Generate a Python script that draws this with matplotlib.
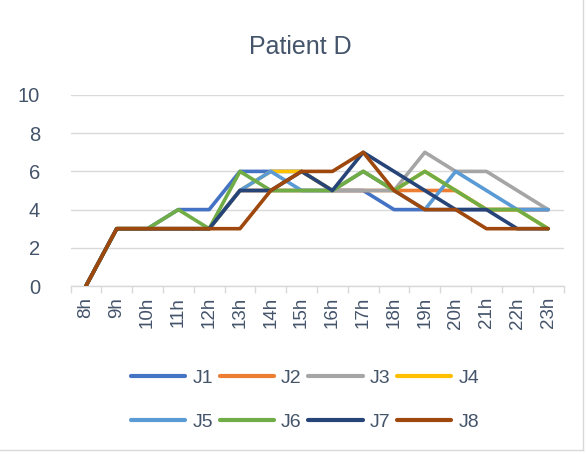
import matplotlib
matplotlib.use("Agg")
import matplotlib.pyplot as plt
from matplotlib.lines import Line2D
import numpy as np

hours = ["8h", "9h", "10h", "11h", "12h", "13h", "14h", "15h",
         "16h", "17h", "18h", "19h", "20h", "21h", "22h", "23h"]
J1 = [0, 3, 3, 4, 4, 6, 6, 6, 5, 5, 4, 4, 4, 4, 4, 4]
J2 = [0, 3, 3, 3, 3, 5, 5, 5, 5, 5, 5, 5, 5, 4, 4, 4]
J3 = [0, 3, 3, 3, 3, 5, 5, 5, 5, 5, 5, 7, 6, 6, 5, 4]
J4 = [0, 3, 3, 3, 3, 5, 6, 6, 5, 6, 5, 6, 5, 4, 4, 3]
J5 = [0, 3, 3, 3, 3, 5, 6, 5, 5, 6, 5, 4, 6, 5, 4, 4]
J6 = [0, 3, 3, 4, 3, 6, 5, 5, 5, 6, 5, 6, 5, 4, 4, 3]
J7 = [0, 3, 3, 3, 3, 5, 5, 6, 5, 7, 6, 5, 4, 4, 3, 3]
J8 = [0, 3, 3, 3, 3, 3, 5, 6, 6, 7, 5, 4, 4, 3, 3, 3]
series_names = ["J1", "J2", "J3", "J4", "J5", "J6", "J7", "J8"]
series = [J1, J2, J3, J4, J5, J6, J7, J8]
colors = ["#4472C4", "#ED7D31", "#A5A5A5", "#FFC000",
          "#5B9BD5", "#70AD47", "#264478", "#9E480E"]
title = "Patient D"

plt.rcParams['font.family'] = ['Liberation Sans', 'DejaVu Sans']
txt = "#44546A"
grid = "#D9D9D9"

fig = plt.figure(figsize=(5.87, 4.55), dpi=100)
ax = fig.add_axes([70.5 / 587, 1 - 286 / 455, 493 / 587, 191 / 455])

x = np.arange(len(hours))
for name, vals, c in zip(series_names, series, colors):
    ax.plot(x, vals, color=c, lw=2.6, label=name,
            solid_joinstyle="round", solid_capstyle="round")

ax.set_xlim(-0.5, len(hours) - 0.5)
ax.set_ylim(0, 10)
ax.set_yticks(range(0, 11, 2))
ax.set_xticks(x)
ax.set_xticklabels(hours, rotation=90, fontsize=13.5, color=txt)
ax.set_xticks(np.arange(-0.5, len(hours), 1), minor=True)
ax.tick_params(axis="x", which="major", length=0, pad=8)
ax.tick_params(axis="x", which="minor", length=5, color=grid, width=1)
ax.tick_params(axis="y", length=0, pad=22, labelsize=14.5, labelcolor=txt)
ax.grid(axis="y", color=grid, lw=1)
ax.set_axisbelow(True)
for s in ["top", "right", "left"]:
    ax.spines[s].set_visible(False)
ax.spines["bottom"].set_color(grid)
ax.spines["bottom"].set_linewidth(1)
ax.spines["bottom"].set_zorder(0.5)

fig.text(300 / 587, 1 - 47 / 455, title, ha="center", va="center",
         fontsize=18, color=txt)

# legend filled row by row (matplotlib fills columns first)
order = [0, 4, 1, 5, 2, 6, 3, 7]
handles = [Line2D([0], [0], color=colors[i], lw=3, solid_capstyle="round") for i in order]
labels = [series_names[i] for i in order]
leg = fig.legend(handles, labels, ncol=4, loc="center",
                 bbox_to_anchor=(305 / 587, 1 - 400 / 455), frameon=False,
                 fontsize=14, handlelength=2.8, handletextpad=0.35,
                 columnspacing=0.35, labelspacing=1.35)
for t in leg.get_texts():
    t.set_color(txt)

# chart border
fig.add_artist(Line2D([583 / 587, 583 / 587], [1 - 450 / 455, 1], color=grid, lw=1,
                      transform=fig.transFigure))
fig.add_artist(Line2D([0, 583 / 587], [1 - 450 / 455, 1 - 450 / 455], color=grid, lw=1,
                      transform=fig.transFigure))

fig.savefig("out.png", dpi=100)
